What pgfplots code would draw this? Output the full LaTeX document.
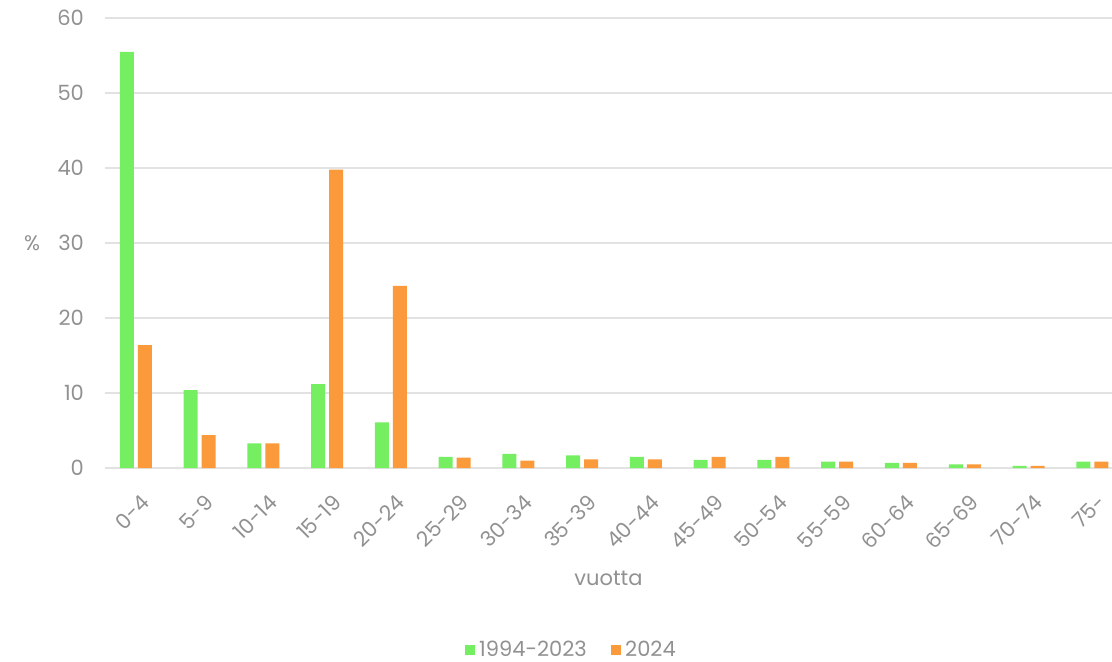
\documentclass[border=0pt]{standalone}
\usepackage{fontspec}
\setmainfont{Poppins}
\usepackage{pgfplots}
\pgfplotsset{compat=1.18}

\definecolor{vihrea}{RGB}{118,238,98}
\definecolor{oranssi}{RGB}{250,154,58}
\definecolor{teksti}{RGB}{145,145,145}
\definecolor{ruudukko}{RGB}{226,226,226}

\begin{document}
\begin{tikzpicture}[font=\fontsize{10.5}{12}\selectfont, text=teksti]
	\begin{axis}[
		scale only axis,
		width=503.5pt,
		height=225pt,
		ybar=2pt,
		bar width=7pt,
		xmin=-0.486, xmax=15.31,
		ymin=0, ymax=60,
		ytick={0,10,...,60},
		xtick=data,
		xticklabels={0-4,5-9,10-14,15-19,20-24,25-29,30-34,35-39,40-44,45-49,50-54,55-59,60-64,65-69,70-74,75-},
		axis line style={draw=none},
		tick style={draw=none},
		ymajorgrids,
		grid style={ruudukko, line width=0.6pt},
		major tick length=0pt,
		/pgf/number format/assume math mode=true,
		yticklabel style={anchor=east, xshift=-7pt, text=teksti},
		xticklabel style={rotate=45, anchor=north east, xshift=-4pt, yshift=-7pt, text=teksti},
		xlabel={vuotta},
		xlabel style={at={(axis description cs:0.5,0)}, anchor=center, yshift=-55pt, text=teksti},
		ylabel={\%},
		ylabel style={at={(axis description cs:0,0.5)}, rotate=-90, anchor=center, xshift=-36.5pt, text=teksti},
		legend style={at={(axis description cs:0.464,0)}, anchor=center, yshift=-91pt,
			draw=none, fill=none, legend columns=2, text=teksti,
			/tikz/every even column/.append style={column sep=10pt}},
		legend image code/.code={\fill[#1,draw=none] (0pt,-2.6pt) rectangle (5.2pt,2.6pt);},
	]
		\addplot[fill=vihrea, draw=none] coordinates {
			(0,55.5) (1,10.4) (2,3.3) (3,11.2) (4,6.1) (5,1.5) (6,1.9) (7,1.7)
			(8,1.5) (9,1.1) (10,1.1) (11,0.85) (12,0.7) (13,0.5) (14,0.3) (15,0.85)
		};
		\addplot[fill=oranssi, draw=none] coordinates {
			(0,16.4) (1,4.4) (2,3.3) (3,39.8) (4,24.3) (5,1.4) (6,1.0) (7,1.15)
			(8,1.15) (9,1.5) (10,1.5) (11,0.85) (12,0.7) (13,0.5) (14,0.3) (15,0.85)
		};
		\legend{1994-2023,2024}
	\end{axis}
	\pgfresetboundingbox
	\path[use as bounding box] (-52.5pt,-96.5pt) rectangle (503.5pt,234pt);
\end{tikzpicture}
\end{document}
